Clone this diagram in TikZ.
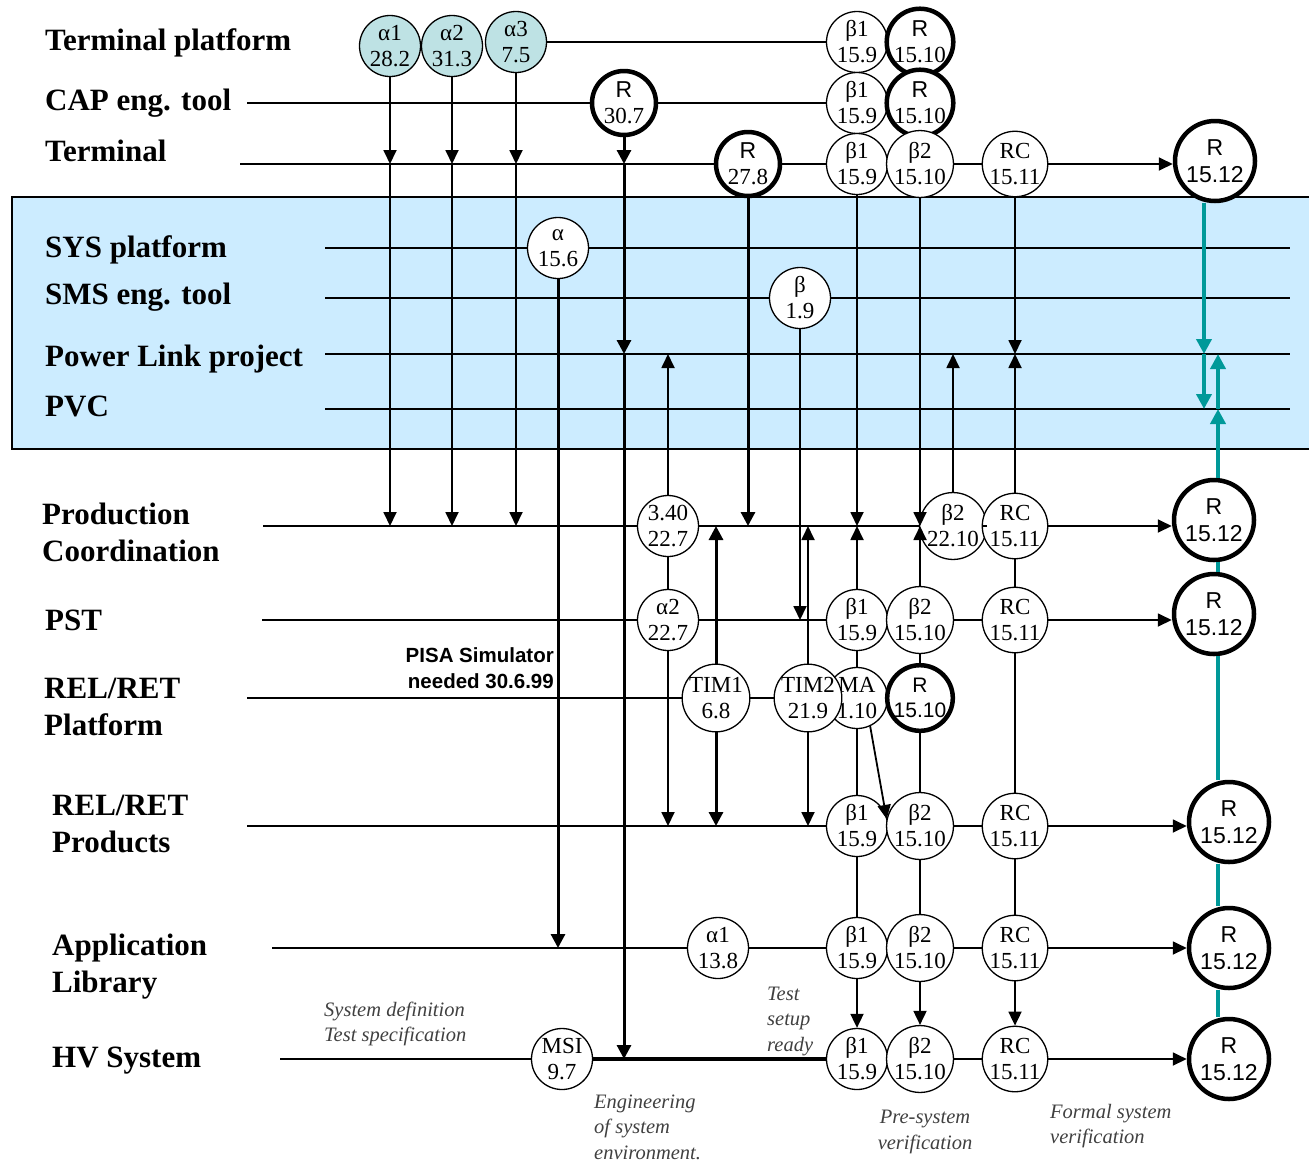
\documentclass[tikz,border=0pt]{standalone}
\usepackage{fontspec}
\setmainfont{Liberation Serif}
\setsansfont{Liberation Sans}
\usetikzlibrary{arrows.meta}

\definecolor{alphafill}{RGB}{190,226,228}
\definecolor{boxblue}{RGB}{204,236,255}
\definecolor{tealline}{RGB}{0,153,153}

\tikzset{
	ms/.style={circle,draw,fill=white,line width=1.3pt,minimum size=61pt,
		inner sep=0pt,align=center,font=\fontsize{23}{26}\selectfont},
	alph/.style={ms,fill=alphafill},
	msR/.style={ms,line width=4.5pt,minimum size=64pt},
	bigR/.style={ms,line width=4.5pt,minimum size=80pt,
		font=\sffamily\fontsize{23}{27}\selectfont},
	rowlbl/.style={anchor=west,align=left,inner sep=0pt,
		font=\bfseries\fontsize{31}{37}\selectfont},
	note/.style={align=left,inner sep=0pt,text=black!75,
		font=\itshape\fontsize{20.5}{25.5}\selectfont},
	row/.style={line width=2.8pt},
	vline/.style={line width=1.6pt},
	arr/.style={line width=1.8pt,-{Triangle[length=14pt,width=13pt]}},
	arrthick/.style={line width=3pt,-{Triangle[length=14pt,width=14pt]}},
	tline/.style={tealline,line width=4pt},
	tealarr/.style={tline,-{Triangle[length=15pt,width=15pt]}}
}

\begin{document}
\begin{tikzpicture}[x=1pt,y=-1pt]

		\useasboundingbox (0,0) rectangle (1309,1163);
		\draw[fill=boxblue,line width=2pt] (12,197) rectangle (1316,449);

		% row labels
		\node[rowlbl] (l1) at (45,43) {Terminal platform};
		\node[rowlbl] (l2) at (45,103) {CAP eng. tool};
		\node[rowlbl] (l3) at (45,151) {Terminal};
		\node[rowlbl] (l4) at (45,250) {SYS platform};
		\node[rowlbl] (l5) at (45,297) {SMS eng. tool};
		\node[rowlbl] (l6) at (45,359) {Power Link project};
		\node[rowlbl] (l7) at (45,406) {PVC};
		\node[rowlbl] (l8) at (42,532) {Production\\Coordination};
		\node[rowlbl] (l9) at (45,620) {PST};
		\node[rowlbl] (l10) at (44,707) {REL/RET\\Platform};
		\node[rowlbl] (l11) at (52,824) {REL/RET\\Products};
		\node[rowlbl] (l12) at (52,967) {Application\\Library};
		\node[rowlbl] (l13) at (52,1061) {HV System};

		% line starts
		\coordinate (cap) at (247,103);
		\coordinate (term) at (240,164);
		\coordinate (sys) at (325,248);
		\coordinate (sysE) at (1290,248);
		\coordinate (sms) at (325,298);
		\coordinate (smsE) at (1290,298);
		\coordinate (pl) at (325,354);
		\coordinate (plE) at (1290,354);
		\coordinate (pvc) at (325,409);
		\coordinate (pvcE) at (1290,409);
		\coordinate (pc) at (263,526);
		\coordinate (pst) at (262,620);
		\coordinate (rr) at (247,698);
		\coordinate (pr) at (247,826);
		\coordinate (al) at (272,948);
		\coordinate (hv) at (280,1059);

		% milestones
		\node[alph] (a1) at (390,46) {α1\\28.2};
		\node[alph] (a2) at (452,46) {α2\\31.3};
		\node[alph] (a3) at (516,42) {α3\\7.5};
		\node[ms] (tpb1) at (857,42) {β1\\15.9};
		\node[msR] (tpr) at (920,42) {{\sffamily R}\\15.10};

		\node[msR] (capr) at (624,103) {{\sffamily R}\\30.7};
		\node[ms] (capb1) at (857,103) {β1\\15.9};
		\node[msR] (capr2) at (920,103) {{\sffamily R}\\15.10};

		\node[msR] (termr) at (748,164) {{\sffamily R}\\27.8};
		\node[ms] (termb1) at (857,164) {β1\\15.9};
		\node[ms] (termb2) at (920,164) {β2\\15.10};
		\node[ms] (termrc) at (1015,164) {RC\\15.11};
		\node[bigR] (termR) at (1215,161) {R\\15.12};

		\node[ms] (sysa) at (558,248) {α\\15.6};
		\node[ms] (smsb) at (800,298) {β\\1.9};

		\node[ms] (pc340) at (668,526) {3.40\\22.7};
		\node[ms] (pcb2) at (953,526) {β2\\22.10};
		\node[ms] (pcrc) at (1015,526) {RC\\15.11};
		\node[bigR] (pcR) at (1214,520) {R\\15.12};

		\node[ms] (psta2) at (668,620) {α2\\22.7};
		\node[ms] (pstb1) at (857,620) {β1\\15.9};
		\node[ms] (pstb2) at (920,620) {β2\\15.10};
		\node[ms] (pstrc) at (1015,620) {RC\\15.11};
		\node[bigR] (pstR) at (1214,614) {R\\15.12};

		\node[ms] (tim1) at (716,698) {TIM1\\6.8};
		\node[ms] (ma) at (857,698) {MA\\1.10};
		\node[ms] (tim2) at (808,698) {TIM2\\21.9};
		\node[msR,font=\sffamily\fontsize{21}{25}\selectfont] (rpr) at (920,698) {R\\15.10};

		\node[ms] (prb1) at (857,826) {β1\\15.9};
		\node[ms] (prb2) at (920,826) {β2\\15.10};
		\node[ms] (prrc) at (1015,826) {RC\\15.11};
		\node[bigR] (prR) at (1229,822) {R\\15.12};

		\node[ms] (ala1) at (718,948) {α1\\13.8};
		\node[ms] (alb1) at (857,948) {β1\\15.9};
		\node[ms] (alb2) at (920,948) {β2\\15.10};
		\node[ms] (alrc) at (1015,948) {RC\\15.11};
		\node[bigR] (alR) at (1229,948) {R\\15.12};

		\node[ms] (msi) at (562,1059) {MSI\\9.7};
		\node[ms] (hvb1) at (857,1059) {β1\\15.9};
		\node[ms] (hvb2) at (920,1059) {β2\\15.10};
		\node[ms] (hvrc) at (1015,1059) {RC\\15.11};
		\node[bigR] (hvR) at (1229,1059) {R\\15.12};

		% notes
		\node[anchor=east,align=right,inner sep=0pt,
			font=\sffamily\bfseries\fontsize{20.5}{26}\selectfont] (pisa) at (554,668)
			{PISA Simulator\\needed 30.6.99};
		\node[note,anchor=west] (sysdef) at (324,1024) {System definition\\Test specification};
		\node[note,anchor=west] (ready) at (767,1021) {Test\\setup\\ready};
		\node[note,anchor=west] (eng) at (594,1127) {Engineering\\of system\\environment.};
		\node[note,align=center] (presys) at (925,1132) {Pre-system\\verification};
		\node[note,anchor=west] (formal) at (1050,1126) {Formal system\\verification};

		% rows
		\draw[row] (a3) -- (tpb1);
		\draw[row] (cap) -- (capr);
		\draw[row] (capr) -- (capb1);
		\draw[row] (term) -- (termr);
		\draw[row] (termr) -- (termb1);
		\draw[row] (termb2) -- (termrc);
		\draw[arr] (termrc) -- (termrc -| termR.west);
		\draw[row] (sys) -- (sysa);
		\draw[row] (sysa) -- (sysE);
		\draw[row] (sms) -- (smsb);
		\draw[row] (smsb) -- (smsE);
		\draw[row] (pl) -- (plE);
		\draw[row] (pvc) -- (pvcE);
		\draw[row] (pc) -- (pc340);
		\draw[row] (pc340) -- (pcb2);
		\draw[row] (pcb2) -- (pcrc);
		\draw[arr] (pcrc) -- (pcrc -| pcR.west);
		\draw[row] (pst) -- (psta2);
		\draw[row] (psta2) -- (pstb1);
		\draw[row] (pstb2) -- (pstrc);
		\draw[arr] (pstrc) -- (pstrc -| pstR.west);
		\draw[row] (rr) -- (tim1);
		\draw[row] (tim1) -- (tim2);
		\draw[row] (pr) -- (prb1);
		\draw[row] (prb2) -- (prrc);
		\draw[arr] (prrc) -- (prrc -| prR.west);
		\draw[row] (al) -- (ala1);
		\draw[row] (ala1) -- (alb1);
		\draw[row] (alb2) -- (alrc);
		\draw[arr] (alrc) -- (alR);
		\draw[row] (hv) -- (msi);
		\draw[row,line width=3.2pt] (msi) -- (hvb1);
		\draw[row] (hvb2) -- (hvrc);
		\draw[arr] (hvrc) -- (hvR);

		% dependencies
		\draw[arr] (a1) -- (a1 |- term);
		\draw[arr] (a1 |- term) -- (a1 |- pc);
		\draw[arr] (a2) -- (a2 |- term);
		\draw[arr] (a2 |- term) -- (a2 |- pc);
		\draw[arr] (a3) -- (a3 |- term);
		\draw[arr] (a3 |- term) -- (a3 |- pc);
		\draw[arrthick] (capr) -- (capr |- term);
		\draw[arrthick] (capr |- term) -- (capr |- pl);
		\draw[arrthick] (capr |- pl) -- (capr |- hv);
		\draw[arrthick] (termr) -- (termr |- pc);
		\draw[arrthick] (sysa) -- (sysa |- al);
		\draw[arr] (smsb) -- (smsb |- pst);
		\draw[arr] (termb1) -- (termb1 |- pc);
		\draw[arr] (pstb1) -- (pstb1 |- pc);
		\draw[arr] (termb2) -- (termb2 |- pc);
		\draw[arr] (pstb2) -- (pstb2 |- pc);
		\draw[arr] (pcb2) -- (pcb2 |- pl);
		\draw[arr] (termrc) -- (termrc |- pl);
		\draw[arr] (pcrc) -- (pcrc |- pl);
		\draw[arr] (pc340) -- (pc340 |- pl);
		\draw[vline] (pc340) -- (psta2);
		\draw[arr] (psta2) -- (psta2 |- pr);
		\draw[arrthick] (tim1) -- (tim1 |- pc);
		\draw[arrthick] (tim1) -- (tim1 |- pr);
		\draw[arr] (tim2) -- (tim2 |- pc);
		\draw[arr] (tim2) -- (tim2 |- pr);
		\draw[vline] (ma) -- (pstb1);
		\draw[vline] (ma) -- (prb1);
		\draw[arr] (ma.-65) -- (prb2.168);
		\draw[vline] (rpr) -- (pstb2);
		\draw[vline] (rpr) -- (prb2);
		\draw[vline] (pcrc) -- (pstrc);
		\draw[vline] (pstrc) -- (prrc);
		\draw[vline] (prrc) -- (alrc);
		\draw[arr] (alrc) -- (hvrc);
		\draw[vline] (prb1) -- (alb1);
		\draw[arr] (alb1) -- (hvb1);
		\draw[vline] (prb2) -- (alb2);
		\draw[arr] (alb2) -- (hvb2);

		% release chain
		\draw[tealarr] ([xshift=-11pt]termR.south) -- ([xshift=-11pt]termR.south |- pl);
		\draw[tealarr] ([xshift=-11pt]termR.south |- pl) -- ([xshift=-11pt]termR.south |- pvc);
		\draw[tealarr] ([xshift=4pt]pcR.north) -- ([xshift=4pt]pcR.north |- pvc);
		\draw[tealarr] ([xshift=4pt]pcR.north |- pvc) -- ([xshift=4pt]pcR.north |- pl);
		\draw[tline] ([xshift=4pt]pcR.south) -- ([xshift=4pt]pstR.north);
		\draw[tline] ([xshift=4pt]pstR.south) -- ([xshift=-11pt]prR.north);
		\draw[tline] ([xshift=-11pt]prR.south) -- ([xshift=-11pt]alR.north);
		\draw[tline] ([xshift=-11pt]alR.south) -- ([xshift=-11pt]hvR.north);

\end{tikzpicture}
\end{document}
